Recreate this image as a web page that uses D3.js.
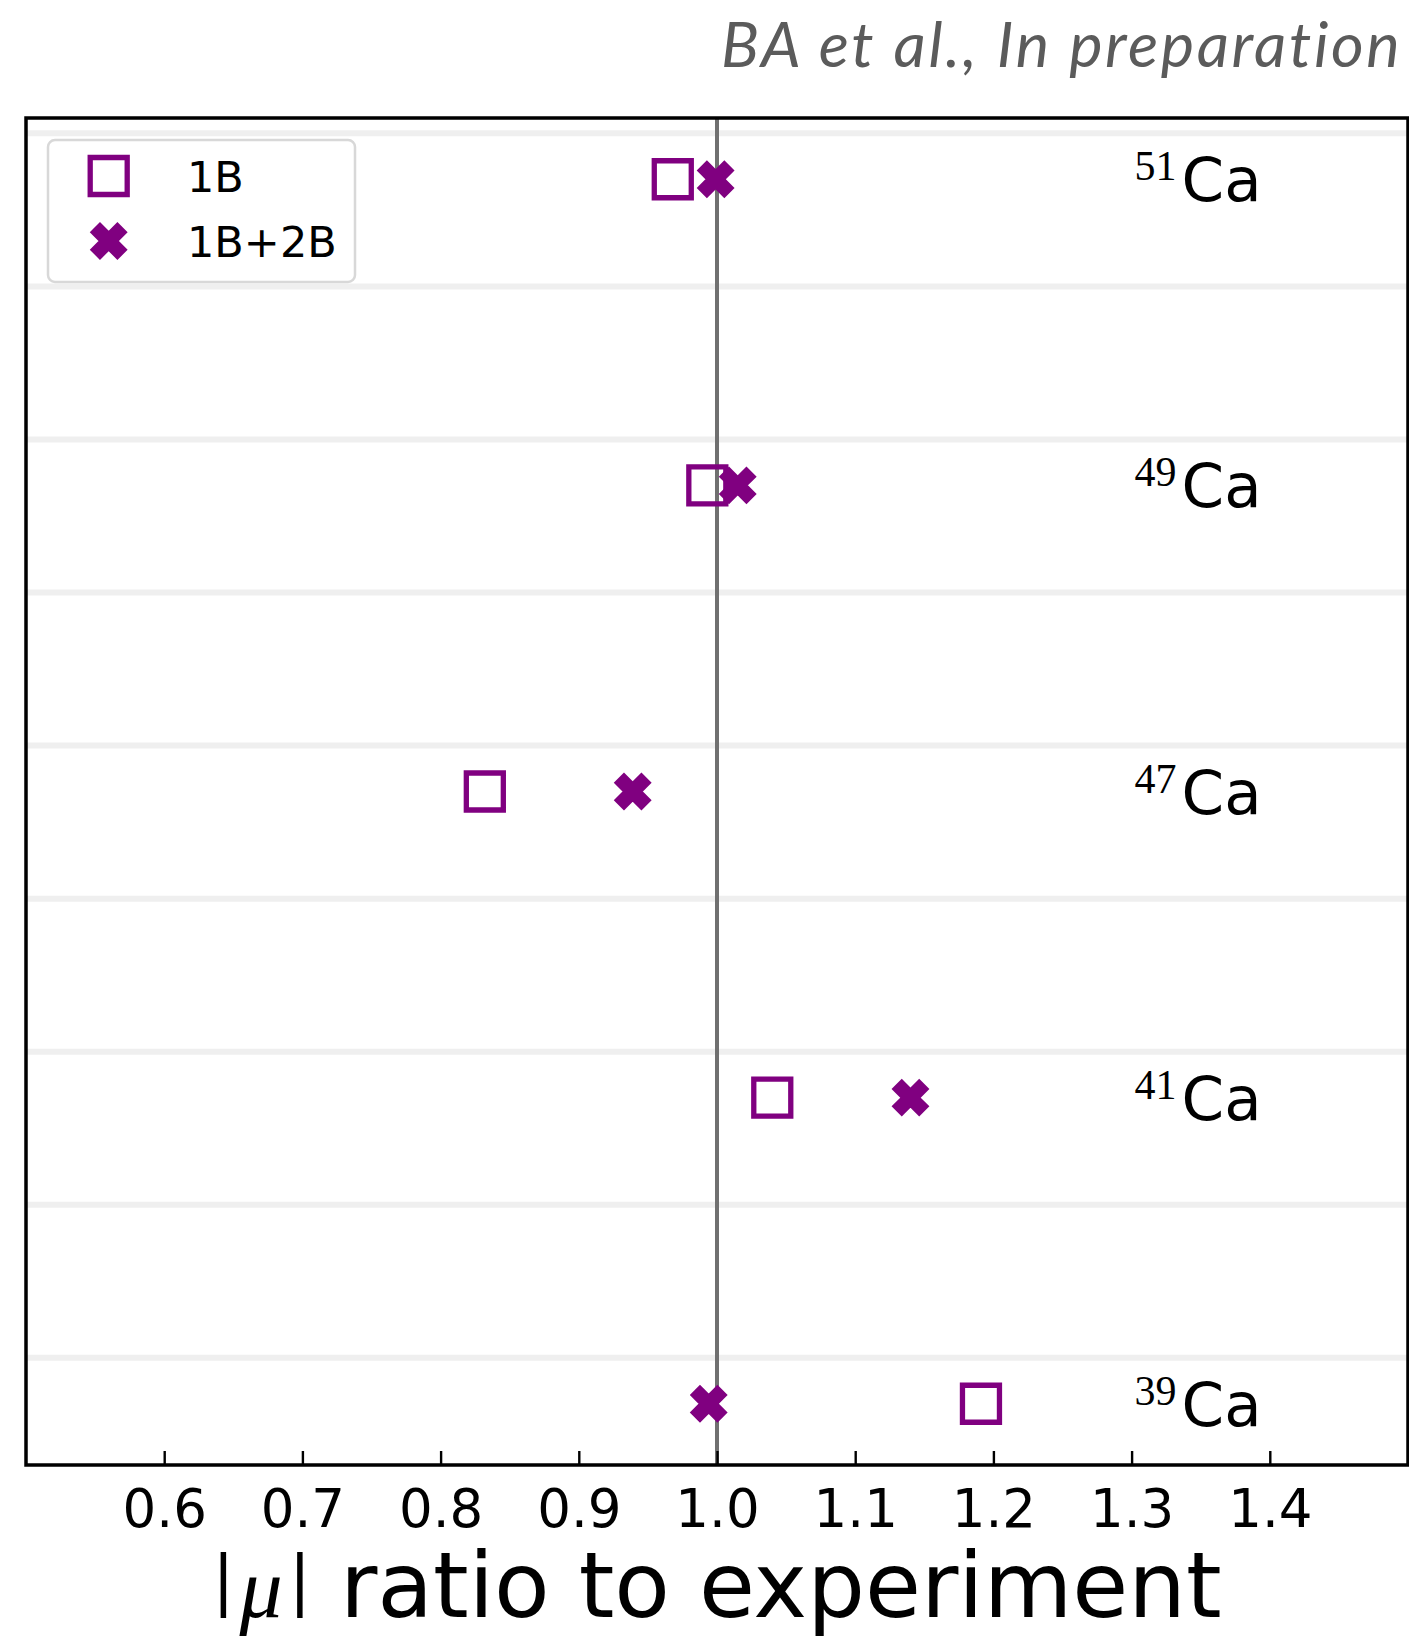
<!DOCTYPE html>
<html>
<head>
<meta charset="utf-8">
<script src="https://cdn.jsdelivr.net/npm/d3@7"></script>
<style>
  html, body { margin: 0; padding: 0; background: #fff; }
  svg { display: block; }
</style>
</head>
<body>
<script>
// Magnetic moment ratios (|mu| theory / experiment) for calcium isotopes
const massNumbers = [39, 41, 47, 49, 51];
const element = "Ca";
const rows = [0, 1, 2, 3, 4];
const oneBody = [1.191, 1.040, 0.832, 0.993, 0.968];
const oneTwoBody = [0.994, 1.140, 0.939, 1.015, 0.999];
const seriesNames = ["1B", "1B+2B"];
const xTicks = [0.6, 0.7, 0.8, 0.9, 1.0, 1.1, 1.2, 1.3, 1.4];
const gridRows = [0.15, 0.65, 1.15, 1.65, 2.15, 2.65, 3.15, 3.65, 4.15];
const referenceRatio = 1.0;
const labelAt = 1.3;

const W = 1409, H = 1639;
const plot = { left: 26, right: 1408, top: 118, bottom: 1465 };
const purple = "#800080";

const svg = d3.select("body").append("svg")
  .attr("width", W).attr("height", H)
  .attr("viewBox", `0 0 ${W} ${H}`);

const x = d3.scaleLinear().domain([0.5, 1.5]).range([plot.left, plot.right]);
const y = d3.scaleLinear().domain([-0.2, 4.2]).range([plot.bottom, plot.top]);

// horizontal separators
svg.append("g").selectAll("line").data(gridRows).join("line")
  .attr("x1", plot.left).attr("x2", plot.right)
  .attr("y1", d => y(d)).attr("y2", d => y(d))
  .attr("stroke", "#efefef").attr("stroke-width", 6);

// reference line at ratio 1
svg.append("line")
  .attr("x1", x(referenceRatio)).attr("x2", x(referenceRatio))
  .attr("y1", plot.top).attr("y2", plot.bottom)
  .attr("stroke", "#707070").attr("stroke-width", 4);

// isotope labels
const lbl = svg.append("g").selectAll("text").data(rows).join("text")
  .attr("x", x(labelAt) + 3).attr("y", d => y(d) + 22);
lbl.append("tspan")
  .attr("font-family", "'Liberation Serif', serif")
  .attr("font-size", 42).attr("dy", -21)
  .text((d, i) => massNumbers[i]);
lbl.append("tspan")
  .attr("font-family", "'DejaVu Sans', sans-serif")
  .attr("font-size", 61).attr("dy", 21).attr("dx", 5)
  .text(element);

// marker shapes
const markerSize = 37, markerEdge = 5.3;
const squarePath = s => `M${-s/2},${-s/2}H${s/2}V${s/2}H${-s/2}Z`;
const plusVerts = [[-1,-3],[1,-3],[1,-1],[3,-1],[3,1],[1,1],[1,3],[-1,3],[-1,1],[-3,1],[-3,-1],[-1,-1]];
const xPath = s => {
  const c = Math.SQRT1_2;
  const pts = plusVerts.map(([a, b]) => {
    const u = a / 6 * s, v = b / 6 * s;
    return [u * c - v * c, u * c + v * c];
  });
  return d3.line()(pts) + "Z";
};

function drawSquare(g, px, py) {
  g.append("path").attr("d", squarePath(markerSize))
    .attr("transform", `translate(${px},${py})`)
    .attr("fill", "none").attr("stroke", purple)
    .attr("stroke-width", markerEdge).attr("stroke-linejoin", "miter");
}
function drawCross(g, px, py) {
  g.append("path").attr("d", xPath(markerSize))
    .attr("transform", `translate(${px},${py})`)
    .attr("fill", purple).attr("stroke", purple)
    .attr("stroke-width", markerEdge * 0.4).attr("stroke-linejoin", "miter");
}

const marks = svg.append("g");
rows.forEach((r, i) => drawSquare(marks, x(oneBody[i]), y(r)));
rows.forEach((r, i) => drawCross(marks, x(oneTwoBody[i]), y(r)));

// x axis with inward ticks
const axis = svg.append("g")
  .attr("transform", `translate(0,${plot.bottom})`)
  .call(d3.axisBottom(x).tickValues(xTicks).tickFormat(d3.format(".1f"))
    .tickSizeInner(-14).tickSizeOuter(0).tickPadding(24));
axis.select(".domain").remove();
axis.selectAll(".tick line").attr("stroke", "#000").attr("stroke-width", 2.4);
axis.selectAll(".tick text")
  .attr("font-family", "'DejaVu Sans', sans-serif")
  .attr("font-size", 53).attr("fill", "#000");

// frame
svg.append("rect")
  .attr("x", plot.left).attr("y", plot.top)
  .attr("width", plot.right - plot.left).attr("height", plot.bottom - plot.top)
  .attr("fill", "none").attr("stroke", "#000").attr("stroke-width", 3.5);

// legend
const leg = svg.append("g");
leg.append("rect")
  .attr("x", 48).attr("y", 140).attr("width", 307).attr("height", 142)
  .attr("rx", 7).attr("fill", "#fff").attr("fill-opacity", 0.8)
  .attr("stroke", "#d8d8d8").attr("stroke-width", 2.5);
const legRows = [176, 241];
drawSquare(leg, 108.7, legRows[0]);
drawCross(leg, 108.7, legRows[1]);
leg.selectAll("text").data(seriesNames).join("text")
  .attr("x", 187).attr("y", (d, i) => legRows[i] + 15.5)
  .attr("font-family", "'DejaVu Sans', sans-serif")
  .attr("font-size", 43).attr("fill", "#000")
  .text(d => d);

// axis title: |mu| bars sit on the baseline like the math-text rendering
const xt = svg.append("text")
  .attr("x", (plot.left + plot.right) / 2).attr("y", 1617)
  .attr("text-anchor", "middle")
  .attr("font-family", "'DejaVu Sans', sans-serif")
  .attr("font-size", 91).attr("fill", "#000");
xt.append("tspan").attr("font-size", 66).attr("dy", -15).text("|");
xt.append("tspan").attr("font-family", "'Liberation Serif', serif")
  .attr("font-style", "italic").attr("font-size", 86)
  .attr("dx", 5).attr("dy", 15).text("μ");
xt.append("tspan").attr("font-size", 66).attr("dx", 6).attr("dy", -15).text("|");
xt.append("tspan").attr("dy", 15).text(" ratio to experiment");

// citation note, spread to span the right part of the header
const noteText = "BA et al., In preparation";
const noteRight = 1399, noteWidth = 678;
const note = svg.append("text")
  .attr("x", noteRight).attr("y", 67)
  .attr("text-anchor", "start")
  .attr("font-family", "Lato, 'Open Sans', sans-serif")
  .attr("font-style", "italic")
  .attr("font-size", 63).attr("fill", "#5b5b5b")
  .text(noteText);
const noteLen = note.node().getComputedTextLength();
const spacing = Math.max(0, (noteWidth - noteLen) / (noteText.length - 1));
note.attr("letter-spacing", spacing)
  .attr("x", noteRight - noteWidth);
</script>
</body>
</html>
